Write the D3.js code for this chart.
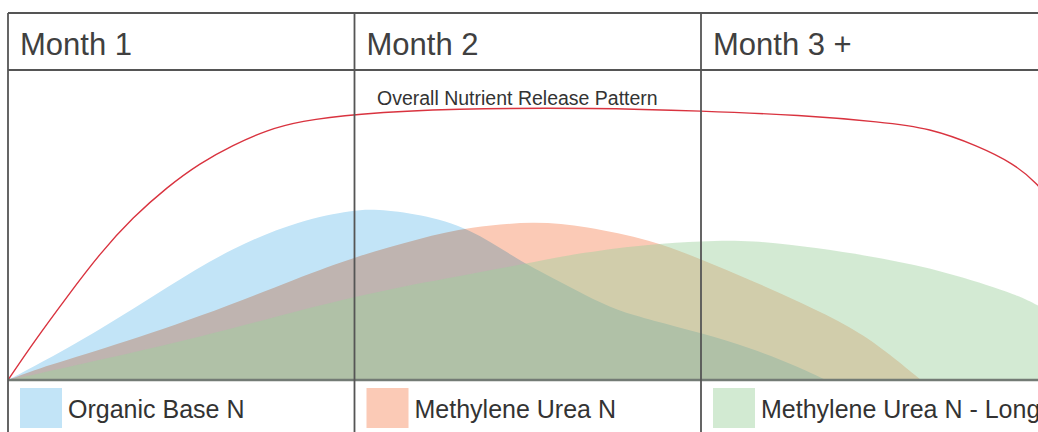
<!DOCTYPE html>
<meta charset="utf-8">
<script src="https://d3js.org/d3.v7.min.js"></script>
<style>
  body { margin: 0; background: #fff; }
  text { font-family: "Liberation Sans", Arial, sans-serif; }
</style>
<div id="chart"></div>
<script>
// Column headers and legend names
var months = ["Month 1", "Month 2", "Month 3 +"];
var seriesNames = ["Organic Base N", "Methylene Urea N", "Methylene Urea N - Long"];
var curveLabel = "Overall Nutrient Release Pattern";

// [months since application, relative release]
var overall = [[0,0],[0.072,12.3],[0.17,27.7],[0.266,42.3],[0.361,54.3],[0.459,64.3],[0.554,72.3],
  [0.649,78.3],[0.747,83.3],[0.843,86.3],[1.0,88.7],[1.28,90.5],[1.7,90.7],[2.0,89.7],[2.29,88.3],
  [2.52,86],[2.66,84],[2.8,78],[2.9,72.3],[2.97,65.7],[3.02,58]];
var organic = [[0,0],[0.072,4.3],[0.266,16.7],[0.459,31],[0.649,44.3],[0.843,53.3],[1.0,56.7],
  [1.06,57],[1.19,55.3],[1.333,50.7],[1.472,40],[1.567,34.3],[1.665,28.3],[1.76,23],[1.856,20],
  [2.0,15.7],[2.144,10.7],[2.29,4],[2.36,0]];
var methylene = [[0,0],[0.072,3.3],[0.266,10],[0.554,21],[0.843,34.3],[1.0,41],[1.19,47.3],
  [1.333,51],[1.52,53],[1.665,51.3],[1.856,46.7],[2.0,40.3],[2.144,33.3],[2.29,25.7],[2.433,17.7],
  [2.53,10],[2.635,0]];
var methyleneLong = [[0,0],[0.072,1.7],[0.266,6.7],[0.554,14.3],[0.843,23.3],[1.0,27.7],[1.13,31],
  [1.276,34],[1.472,38.3],[1.665,42.7],[1.856,45.3],[2.0,46.3],[2.144,46.7],[2.34,44],[2.52,40.7],
  [2.71,36],[2.9,29],[2.97,25],[3.02,22]];

var width = 1038, height = 432;
var topY = 13, headBottom = 70, base = 380;

var svg = d3.select("#chart").append("svg")
    .attr("width", width)
    .attr("height", height);

var x = d3.scaleLinear().domain([0, 3]).range([8, 1047.5]);
var y = d3.scaleLinear().domain([0, 100]).range([base, 80]);

svg.append("clipPath").attr("id", "plot")
   .append("rect").attr("x", 8).attr("y", headBottom).attr("width", width).attr("height", base - headBottom);

var curve = d3.curveBasis;

var area = d3.area()
    .curve(curve)
    .x(function(d) { return x(d[0]); })
    .y0(y(0))
    .y1(function(d) { return y(d[1]); });

var areas = svg.append("g").attr("clip-path", "url(#plot)");

// Areas: blue, orange (multiplied), green (transparent on top)
areas.append("path").datum(organic).attr("d", area).attr("fill", "#c2e4f7");
areas.append("path").datum(methylene).attr("d", area).attr("fill", "#fbcab6")
     .style("mix-blend-mode", "multiply");
areas.append("path").datum(methyleneLong).attr("d", area).attr("fill", "#9dd09d")
     .attr("fill-opacity", 0.45);

// Overall red line
areas.append("path").datum(overall)
     .attr("fill", "none")
     .attr("stroke", "#d9333f")
     .attr("stroke-width", 1.4)
     .attr("d", d3.line().curve(curve)
        .x(function(d) { return x(d[0]); })
        .y(function(d) { return y(d[1]); }));

svg.append("text")
   .attr("x", 377).attr("y", 105)
   .attr("font-size", 19.5)
   .attr("fill", "#333")
   .text(curveLabel);

// Grid frame
var lineColor = "#555";
[topY, headBottom].forEach(function(yy) {
  svg.append("line").attr("x1", 8).attr("x2", width).attr("y1", yy).attr("y2", yy)
     .attr("stroke", lineColor).attr("stroke-width", 1.8);
});
svg.append("line").attr("x1", 8).attr("x2", width).attr("y1", base).attr("y2", base)
   .attr("stroke", "#737b75").attr("stroke-width", 2.6);

svg.selectAll(".divider")
   .data([0, 1, 2])
   .enter().append("line")
   .attr("class", "divider")
   .attr("x1", function(d) { return x(d); })
   .attr("x2", function(d) { return x(d); })
   .attr("y1", topY).attr("y2", height)
   .attr("stroke", lineColor).attr("stroke-width", 1.8);

// Month headers
svg.selectAll(".month")
   .data(months)
   .enter().append("text")
   .attr("class", "month")
   .attr("x", function(d, i) { return x(i) + 12; })
   .attr("y", 55)
   .attr("font-size", 31)
   .attr("fill", "#404040")
   .text(function(d) { return d; });

// Legend
var swatch = ["#c2e4f7", "#fbcab6", "#d2ead2"];
var legend = svg.selectAll(".legend")
   .data(seriesNames)
   .enter().append("g")
   .attr("class", "legend")
   .attr("transform", function(d, i) { return "translate(" + x(i) + ",0)"; });

legend.append("rect")
   .attr("x", 12).attr("y", 388)
   .attr("width", 42).attr("height", 40)
   .attr("fill", function(d, i) { return swatch[i]; });

legend.append("text")
   .attr("x", 60).attr("y", 418)
   .attr("font-size", 25)
   .attr("fill", "#333")
   .text(function(d) { return d; });
</script>
